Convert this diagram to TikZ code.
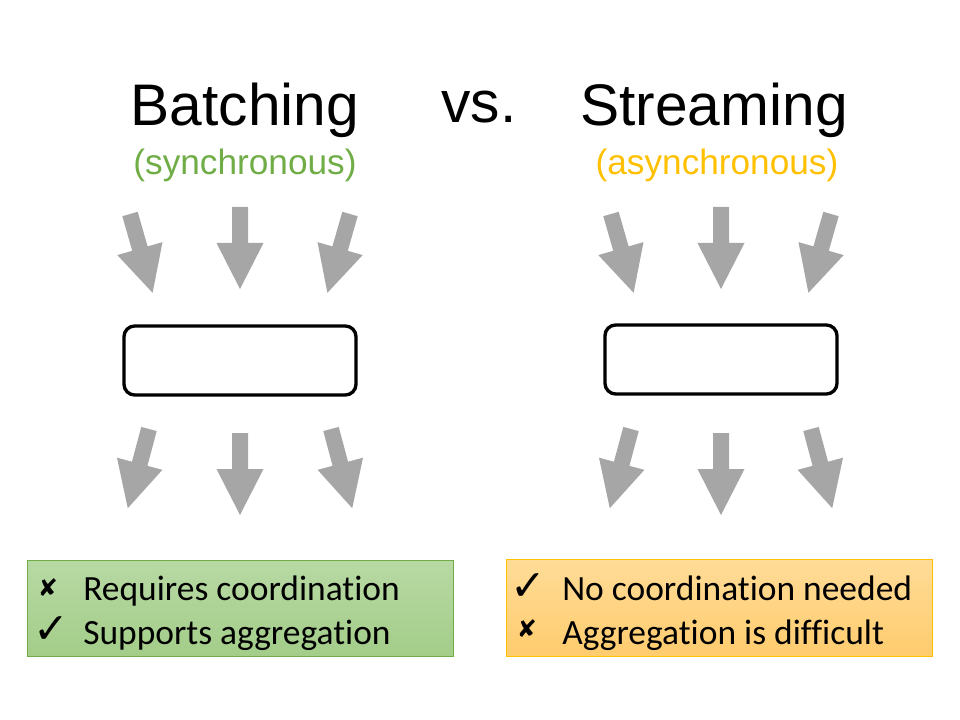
\documentclass[tikz,border=0pt]{standalone}
\usepackage{fontspec}
\setmainfont{Liberation Sans}
\newfontfamily\calibrifont[Ligatures=NoCommon]{Carlito}
\newfontfamily\symbfont{DejaVu Sans}

\definecolor{arrowgray}{HTML}{A6A6A6}
\definecolor{syncgreen}{HTML}{70AD47}
\definecolor{asyncyellow}{HTML}{FFC000}
\definecolor{greentop}{HTML}{B8D9A4}
\definecolor{greenbot}{HTML}{A3CD89}
\definecolor{orangetop}{HTML}{FFDC98}
\definecolor{orangebot}{HTML}{FFCC6E}

\tikzset{
	fatarrow/.pic={\fill[arrowgray] (-8,0) -- (-8,36) -- (-23.5,36) -- (0,82) -- (23.5,36) -- (8,36) -- (8,0) -- cycle;},
	procbox/.style={draw,line width=2.5pt,rounded corners=8pt,minimum width=174pt,minimum height=51.75pt,inner sep=0pt},
	titletext/.style={font=\fontsize{44}{53}\selectfont,inner sep=0pt,anchor=base},
	subtext/.style={font=\fontsize{26.4}{32}\selectfont,inner sep=0pt,anchor=base},
	pointtext/.style={font=\calibrifont\fontsize{26.6}{32}\selectfont,inner sep=0pt,anchor=base west},
	yesmark/.style={font=\symbfont\fontsize{32}{32}\selectfont,inner sep=0pt},
	nomark/.style={font=\symbfont\fontsize{18}{18}\selectfont,inner sep=0pt},
	greenpanel/.style={draw=syncgreen,line width=0.75pt,top color=greentop,bottom color=greenbot},
	orangepanel/.style={draw=asyncyellow,line width=0.75pt,top color=orangetop,bottom color=orangebot}
}

\begin{document}
\begin{tikzpicture}[x=0.75pt,y=-0.75pt]
	\useasboundingbox (0,0) rectangle (960,720);

	%TITLES
	\node[titletext] (batchtitle) at (245,126) {Batching};
	\node[titletext] (versus) at (479,123) {vs.};
	\node[titletext] (streamtitle) at (714,126) {Streaming};
	\node[subtext,text=syncgreen] (synclabel) at (245,174.5) {(synchronous)};
	\node[subtext,text=asyncyellow] (asynclabel) at (717,174.5) {(asynchronous)};

	%BATCHING: ARROWS IN, BOX, ARROWS OUT
	\pic[rotate=16] at (130,214) {fatarrow};		%in, left
	\pic at (240,207) {fatarrow};					%in, middle
	\pic[rotate=-16] at (350,214) {fatarrow};		%in, right
	\node[procbox] (batchbox) at (240,360.5) {};
	\pic[rotate=-15] at (149,429) {fatarrow};		%out, left
	\pic at (240,433) {fatarrow};					%out, middle
	\pic[rotate=15] at (331,429) {fatarrow};		%out, right

	%STREAMING: ARROWS IN, BOX, ARROWS OUT
	\pic[rotate=16] at (611,214) {fatarrow};		%in, left
	\pic at (721,207) {fatarrow};					%in, middle
	\pic[rotate=-16] at (831,214) {fatarrow};		%in, right
	\node[procbox] (streambox) at (721,359.5) {};
	\pic[rotate=-15] at (631,429) {fatarrow};		%out, left
	\pic at (721,433) {fatarrow};					%out, middle
	\pic[rotate=15] at (811,429) {fatarrow};		%out, right

	%PROS AND CONS
	\path[greenpanel] (27,560) rectangle (453,656);
	\node[nomark] (batchno) at (48,588) {✘};
	\node[yesmark] (batchyes) at (51,630) {✓};
	\node[pointtext] (batchcon) at (83,600) {Requires coordination};
	\node[pointtext] (batchpro) at (83,644) {Supports aggregation};
	%
	\path[orangepanel] (506,559) rectangle (932,656);
	\node[yesmark] (streamyes) at (528,587) {✓};
	\node[nomark] (streamno) at (527,629) {✘};
	\node[pointtext] (streampro) at (562,600) {No coordination needed};
	\node[pointtext] (streamcon) at (562,644) {Aggregation is difficult};
\end{tikzpicture}
\end{document}
